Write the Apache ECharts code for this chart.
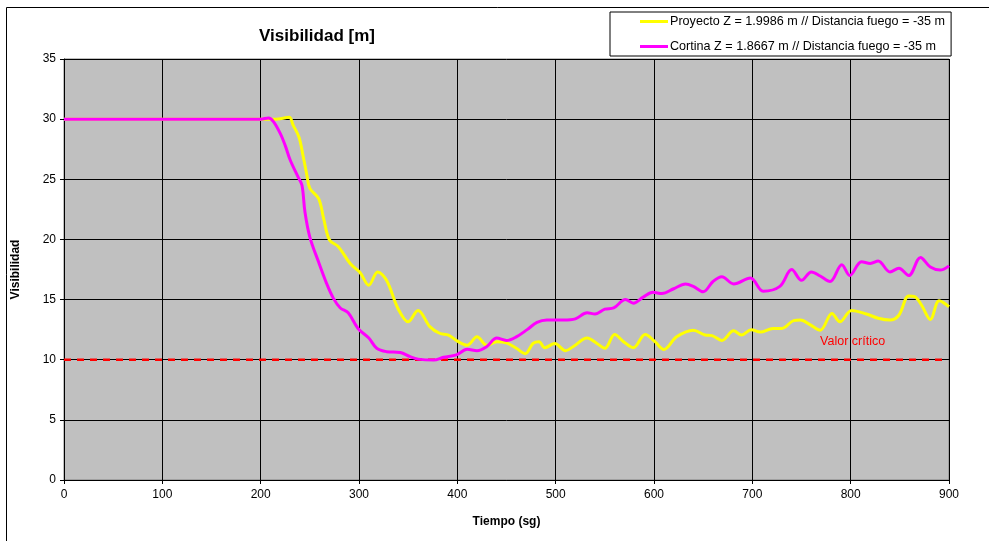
<!DOCTYPE html>
<html>
<head>
<meta charset="utf-8">
<script src="https://cdn.jsdelivr.net/npm/echarts@6/dist/echarts.min.js"></script>
<style>
  html, body { margin: 0; padding: 0; background: #ffffff; }
  #chart { width: 994px; height: 541px; }
</style>
</head>
<body>
<div id="chart"></div>
<script>
// Visibility over time (seconds) for two measurement heights
const proyectoTime = [0, 205, 215, 229, 233, 239, 243, 247, 250, 259, 264, 270, 279, 291, 301, 310, 319, 328, 340, 350, 360, 372, 382, 391, 401, 410, 420, 430, 440, 450, 460, 469, 477, 483, 489, 499, 510, 518, 532, 542, 550, 560, 569, 579, 591, 601, 610, 623, 640, 652, 659, 669, 681, 689, 699, 708, 721, 730, 742, 749, 759, 769, 781, 789, 801, 816, 828, 840, 849, 859, 865, 872, 881, 890, 900];
const proyectoVis = [30, 30, 30, 30.15, 29.5, 28.5, 27.0, 25.35, 24.25, 23.4, 21.75, 19.95, 19.4, 18.0, 17.25, 16.2, 17.3, 16.6, 14.2, 13.15, 14.1, 12.75, 12.2, 12.05, 11.5, 11.2, 11.9, 11.2, 11.5, 11.4, 10.95, 10.5, 11.35, 11.5, 11.0, 11.35, 10.75, 11.1, 11.8, 11.35, 10.95, 12.1, 11.5, 11.0, 12.1, 11.5, 10.85, 11.9, 12.45, 12.05, 12.0, 11.6, 12.4, 12.05, 12.5, 12.3, 12.6, 12.6, 13.25, 13.3, 12.9, 12.45, 13.85, 13.15, 14.1, 13.8, 13.45, 13.3, 13.7, 15.3, 15.25, 14.55, 13.35, 14.9, 14.4];

const cortinaTime = [0, 200, 208, 213, 220, 225, 230, 238, 242, 245, 250, 259, 267, 274, 281, 289, 299, 310, 318, 328, 342, 352, 360, 376, 386, 399, 410, 420, 430, 440, 450, 460, 471, 481, 491, 508, 520, 532, 540, 550, 559, 571, 579, 589, 599, 608, 620, 632, 640, 650, 660, 669, 681, 698, 711, 728, 740, 750, 760, 769, 779, 791, 799, 811, 820, 828, 840, 849, 859, 871, 881, 891, 900];
const cortinaVis = [30, 30, 30.1, 29.8, 28.8, 27.8, 26.6, 25.2, 24.5, 22.3, 20.2, 18.1, 16.35, 15.1, 14.3, 13.9, 12.6, 11.8, 10.95, 10.67, 10.6, 10.25, 10.05, 9.97, 10.2, 10.4, 10.86, 10.75, 11.1, 11.8, 11.6, 11.9, 12.5, 13.1, 13.3, 13.3, 13.4, 13.9, 13.8, 14.2, 14.3, 15.0, 14.7, 15.2, 15.6, 15.5, 15.9, 16.3, 16.1, 15.65, 16.5, 16.9, 16.3, 16.8, 15.7, 16.1, 17.5, 16.6, 17.3, 16.96, 16.5, 17.9, 17.0, 18.15, 18.0, 18.2, 17.3, 17.6, 17.0, 18.5, 17.7, 17.45, 17.8];

// Critical visibility threshold
const criticoTime = [0, 895];
const criticoVis = [10, 10];
const criticoLabel = 'Valor crítico';
const criticoLabelAt = [802, 11.5];

const seriesNames = [
  'Proyecto Z = 1.9986 m // Distancia fuego = -35 m',
  'Cortina Z = 1.8667 m // Distancia fuego = -35 m'
];

const pairs = (xs, ys) => xs.map((x, i) => [x, ys[i]]);

const FONT = 'Liberation Sans, Arial, sans-serif';
const chart = echarts.init(document.getElementById('chart'), null, { renderer: 'canvas' });

chart.setOption({
  animation: false,
  backgroundColor: '#ffffff',
  title: {
    text: 'Visibilidad [m]',
    left: 312, top: 23, textAlign: 'center',
    textStyle: { fontFamily: FONT, fontSize: 17, fontWeight: 'bold', color: '#000' }
  },
  graphic: [
    { type: 'line', shape: { x1: 6.5, y1: 7.5, x2: 6.5, y2: 541 }, style: { stroke: '#000', lineWidth: 1 } },
    { type: 'line', shape: { x1: 6.5, y1: 7.5, x2: 989, y2: 7.5 }, style: { stroke: '#000', lineWidth: 1 } }
  ],
  legend: {
    data: seriesNames,
    orient: 'vertical',
    left: 610, top: 12,
    padding: [3, 6, 3, 30],
    itemGap: 12,
    itemWidth: 28, itemHeight: 3,
    icon: 'rect',
    backgroundColor: '#ffffff',
    borderColor: '#000', borderWidth: 1,
    textStyle: { fontFamily: FONT, fontSize: 12.6, color: '#000', padding: [0, 0, 0, -3] }
  },
  grid: {
    left: 64, top: 59, right: 45, bottom: 61,
    show: true, backgroundColor: '#c0c0c0', borderColor: '#808080', borderWidth: 1
  },
  xAxis: {
    type: 'value', min: 0, max: 900, interval: 100,
    name: 'Tiempo (sg)', nameLocation: 'middle', nameGap: 36,
    nameTextStyle: { fontFamily: FONT, fontSize: 12, fontWeight: 'bold', color: '#000' },
    axisLine: { show: true, lineStyle: { color: '#000', width: 1 } },
    axisTick: { show: true, length: 4, inside: false, lineStyle: { color: '#000' } },
    axisLabel: { fontFamily: FONT, fontSize: 12, color: '#000', margin: 9 },
    splitLine: { show: true, lineStyle: { color: '#000', width: 1 } }
  },
  yAxis: {
    type: 'value', min: 0, max: 35, interval: 5,
    name: 'Visibilidad', nameLocation: 'middle', nameGap: 42, nameRotate: 90,
    nameTextStyle: { fontFamily: FONT, fontSize: 12, fontWeight: 'bold', color: '#000' },
    axisLine: { show: true, lineStyle: { color: '#000', width: 1 } },
    axisTick: { show: true, length: 4, inside: false, lineStyle: { color: '#000' } },
    axisLabel: { fontFamily: FONT, fontSize: 12, color: '#000', margin: 8 },
    splitLine: { show: true, lineStyle: { color: '#000', width: 1 } }
  },
  series: [
    {
      name: criticoLabel,
      type: 'line',
      data: pairs(criticoTime, criticoVis),
      showSymbol: false,
      z: 1,
      lineStyle: { color: '#ff0000', width: 2.5, type: [7, 6] },
      markPoint: {
        symbol: 'circle', symbolSize: 0,
        data: [{ coord: criticoLabelAt }],
        label: {
          show: true, formatter: criticoLabel, position: 'inside',
          fontFamily: FONT, fontSize: 12.5, color: '#ff0000'
        }
      }
    },
    {
      name: seriesNames[0],
      type: 'line',
      data: pairs(proyectoTime, proyectoVis),
      showSymbol: false,
      smooth: 0.35,
      z: 2,
      itemStyle: { color: '#ffff00' },
      lineStyle: { color: '#ffff00', width: 3 }
    },
    {
      name: seriesNames[1],
      type: 'line',
      data: pairs(cortinaTime, cortinaVis),
      showSymbol: false,
      smooth: 0.35,
      z: 3,
      itemStyle: { color: '#ff00ff' },
      lineStyle: { color: '#ff00ff', width: 3 }
    }
  ]
});
</script>
</body>
</html>
